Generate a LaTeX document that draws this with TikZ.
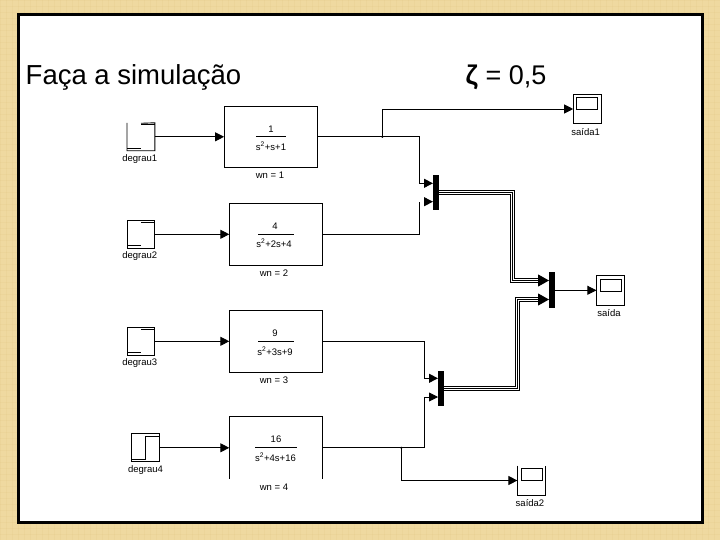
\documentclass[tikz,border=0pt]{standalone}
\usepackage{fontspec}
\setmainfont{Liberation Sans}
\usetikzlibrary{arrows.meta}
\definecolor{paper}{HTML}{EFD9A0}
\definecolor{weave}{HTML}{D9BC78}
\tikzset{
  wire/.style={line width=0.9pt,black},
  arrowwire/.style={wire,-{Triangle[length=9pt,width=9pt]}},
  busline/.style={line width=5pt,black,line join=miter,
    postaction={draw,white,line width=3pt},
    postaction={draw,black,line width=1pt}},
  bushead/.style={line width=0.9pt,-{Triangle[length=11pt,width=12pt]}},
  tfbox/.style={draw,line width=0.9pt,fill=white,inner sep=0pt,outer sep=0pt,minimum width=93.4pt,minimum height=62pt},
  openbox/.style={inner sep=0pt,outer sep=0pt,minimum width=93.4pt,minimum height=62pt},
  stepbox/.style={draw,line width=0.9pt,inner sep=0pt,outer sep=0pt,minimum width=27.8pt,minimum height=28pt},
  scopebox/.style={draw,line width=0.9pt,inner sep=0pt,outer sep=0pt,minimum width=28.2pt,minimum height=29.6pt},
  screenbox/.style={draw,line width=0.9pt,inner sep=0pt,outer sep=0pt,minimum width=21pt,minimum height=12pt},
  muxbar/.style={fill=black,inner sep=0pt,outer sep=0pt,minimum width=6pt,minimum height=35.8pt},
  tiny label/.style={font=\fontsize{9.5}{10}\selectfont,inner sep=0pt},
  branch/.style={circle,fill=black,inner sep=0pt,minimum size=2.4pt}
}
\begin{document}
\begin{tikzpicture}[x=1pt,y=-1pt]
  \useasboundingbox (0,0) rectangle (720,540);
  \fill[paper] (0,0) rectangle (720,540);
  \foreach \i in {0,6,...,720} \draw[weave,line width=0.8pt,opacity=0.13] (\i,0) -- (\i,540);
  \foreach \i in {0,6,...,540} \draw[weave,line width=0.8pt,opacity=0.13] (0,\i) -- (720,\i);
  \draw[line width=3.2pt,fill=white] (18.5,14.5) rectangle (702.5,522.5);

  \node[anchor=base west,inner sep=0pt,font=\fontsize{27.5}{30}\selectfont] (title) at (25.5,84.5) {Faça a simulação};
  \node[anchor=base west,inner sep=0pt,font=\fontsize{27}{30}\selectfont] (zeta) at (465.5,84.5) {\textbf{ζ} = 0,5};

  % step inputs
  \node[stepbox,draw=none] (degrau1) at (140.9,136.8) {};
  \draw[wire] (141,123.3) -- (degrau1.north east) -- (degrau1.south east) -- (degrau1.south west) -- (degrau1.north west);
  \draw[wire] (127,148.3) -- (141,148.3);
  \draw[wire] (141,124.8) -- (154.7,124.8);
  \node[tiny label] (degrau1t) at (139.7,159) {degrau1};

  \node[stepbox] (degrau2) at (140.9,234.3) {};
  \draw[wire] (127,245.3) -- (141,245.3);
  \draw[wire] (141,222) -- (154.7,222);
  \node[tiny label] (degrau2t) at (139.7,256) {degrau2};

  \node[stepbox] (degrau3) at (140.9,341.3) {};
  \draw[wire] (127,352.3) -- (141,352.3);
  \draw[wire] (141,329) -- (154.7,329);
  \node[tiny label] (degrau3t) at (139.7,363) {degrau3};

  \node[stepbox] (degrau4) at (145.5,447.8) {};
  \draw[wire] (131.3,459.3) -- (145.7,459.3) -- (145.7,436) -- (159.7,436);
  \node[tiny label] (degrau4t) at (145.5,470) {degrau4};

  % second order blocks
  \node[tfbox,minimum height=61pt] (wn1) at (270.8,136.8) {};
  \draw[wire] ([xshift=-15pt]wn1.center) -- ([xshift=15pt]wn1.center);
  \node[tiny label] (num1) at (271,129) {1};
  \node[tiny label] (den1) at (271,146) {s\textsuperscript{2}+s+1};
  \node[tiny label] (wn1t) at (270,175) {wn = 1};

  \node[tfbox] (wn2) at (276,234.3) {};
  \draw[wire] ([xshift=-18pt]wn2.center) -- ([xshift=18pt]wn2.center);
  \node[tiny label] (num2) at (275,226) {4};
  \node[tiny label] (den2) at (274,243) {s\textsuperscript{2}+2s+4};
  \node[tiny label] (wn2t) at (274,273) {wn = 2};

  \node[tfbox] (wn3) at (276,341.3) {};
  \draw[wire] ([xshift=-18pt]wn3.center) -- ([xshift=18pt]wn3.center);
  \node[tiny label] (num3) at (275,333) {9};
  \node[tiny label] (den3) at (275,351) {s\textsuperscript{2}+3s+9};
  \node[tiny label] (wn3t) at (274,380) {wn = 3};

  \node[openbox] (wn4) at (276,447.8) {};
  \fill[white] (wn4.south west) rectangle (wn4.north east);
  \draw[wire] (wn4.south west) -- (wn4.north west) -- (wn4.north east) -- (wn4.south east);
  \draw[wire] ([xshift=-20.8pt]wn4.center) -- ([xshift=20.8pt]wn4.center);
  \node[tiny label] (num4) at (276,439.7) {16};
  \node[tiny label] (den4) at (275.5,457.5) {s\textsuperscript{2}+4s+16};
  \node[tiny label] (wn4t) at (274,487) {wn = 4};

  % muxes
  \node[muxbar] (mux1) at (436,192.5) {};
  \node[muxbar] (mux2) at (441,388.5) {};
  \node[muxbar] (mux3) at (552,290.3) {};

  % scopes
  \node[scopebox] (saida1) at (587.3,109) {};
  \node[screenbox] (screen1) at (587,103.5) {};
  \node[tiny label] (saida1t) at (585.7,132) {saída1};

  \node[scopebox] (saida) at (610.5,290.3) {};
  \node[screenbox] (screen) at (610.5,285) {};
  \node[tiny label] (saidat) at (609,312.7) {saída};

  \node[scopebox,draw=none] (saida2) at (531.5,480.5) {};
  \draw[wire] (saida2.north west) -- (saida2.south west) -- (saida2.south east) -- (saida2.north east);
  \node[screenbox] (screen2) at (531.7,474.8) {};
  \node[tiny label] (saida2t) at (530,503) {saída2};

  % signal lines
  \draw[arrowwire] (degrau1.east) -- (wn1.west);
  \draw[arrowwire] (degrau2.east) -- (wn2.west);
  \draw[arrowwire] (degrau3.east) -- (wn3.west);
  \draw[arrowwire] (degrau4.east) -- (wn4.west);

  \coordinate (gap1) at (419.3,201.7);
  \coordinate (gap1b) at (424,201.7);
  \draw[arrowwire] (wn1.east) -| (419.3,183.3) -- ([yshift=9.2pt]mux1.west);
  \draw[wire] (wn2.east) -| (gap1);
  \draw[arrowwire] (gap1b) -- ([yshift=-9.2pt]mux1.west);
  \draw[arrowwire] (wn3.east) -| (424.3,378.3) -- ([yshift=10.2pt]mux2.west);
  \draw[arrowwire] (wn4.east) -| (424.3,397) -- ([yshift=-8.5pt]mux2.west);

  \node[branch] (dot1) at (382.3,136.8) {};
  \node[branch] (dot2) at (401.3,447.8) {};
  \draw[arrowwire] (dot1.center) |- (saida1.west);
  \draw[arrowwire] (dot2.center) |- (saida2.west);
  \draw[arrowwire] (mux3.east) -- (saida.west);

  % bus lines
  \coordinate (in31) at ([yshift=9.8pt]mux3.west);
  \coordinate (in32) at ([yshift=-9.2pt]mux3.west);
  \draw[busline] (mux1.east) -| (512.5,280.5) -- ([xshift=-10pt]in31);
  \draw[busline] (mux2.east) -| (517.5,299.5) -- ([xshift=-10pt]in32);
  \draw[bushead] ([xshift=-10.5pt]in31) -- (in31);
  \draw[bushead] ([xshift=-10.5pt]in32) -- (in32);
\end{tikzpicture}
\end{document}
